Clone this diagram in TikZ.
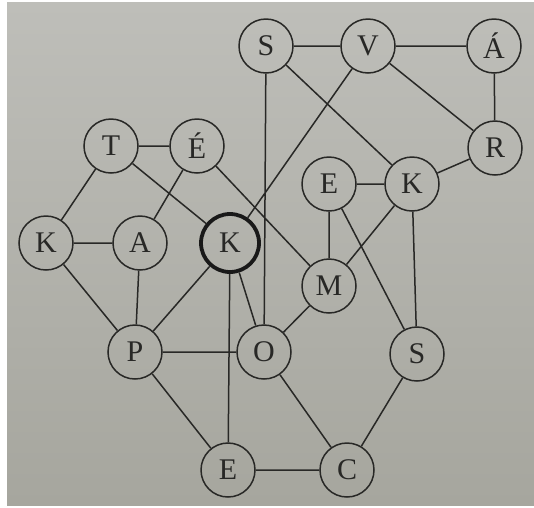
\documentclass[tikz,border=0pt]{standalone}
\usepackage{fontspec}
\setmainfont{Liberation Serif}
\definecolor{paperTop}{RGB}{190,190,185}
\definecolor{paperBot}{RGB}{166,166,158}
\definecolor{ink}{RGB}{40,40,38}
\begin{document}
\begin{tikzpicture}[x=1pt,y=-1pt,
  vtx/.style={circle,draw=ink,line width=1.5pt,minimum size=54pt,inner sep=0pt,
    font=\fontsize{30}{30}\selectfont,text=ink},
  hl/.style={line width=3.8pt,minimum size=58pt,draw=black!90},
  edge/.style={draw=ink,line width=1.5pt}]
\useasboundingbox (0,0) rectangle (534,507);
\fill[white] (0,0) rectangle (534,507);
\shade[top color=paperTop,bottom color=paperBot] (7,2) rectangle (534,505);
\node[vtx] (S1) at (266,46) {S};
\node[vtx] (V) at (368,46) {V};
\node[vtx] (AA) at (494,46) {Á};
\node[vtx] (R) at (495,148) {R};
\node[vtx] (T) at (111,146) {T};
\node[vtx] (EE) at (197,146) {É};
\node[vtx] (E1) at (329,184) {E};
\node[vtx] (K2) at (412,184) {K};
\node[vtx] (K1) at (46,243) {K};
\node[vtx] (A) at (140,243) {A};
\node[vtx,hl] (K0) at (230,243) {K};
\node[vtx] (M) at (329,286) {M};
\node[vtx] (P) at (135,352) {P};
\node[vtx] (O) at (264,352) {O};
\node[vtx] (S2) at (417,354) {S};
\node[vtx] (E2) at (228,470) {E};
\node[vtx] (C) at (347,470) {C};
\path[edge]
  (S1) -- (V) (V) -- (AA) (AA) -- (R) (V) -- (R)
  (S1) -- (K2) (S1) -- (O) (V) -- (K0) (R) -- (K2)
  (T) -- (EE) (T) -- (K1) (T) -- (K0) (EE) -- (A) (EE) -- (M)
  (K1) -- (A) (K1) -- (P) (A) -- (P)
  (K0) -- (P) (K0) -- (O) (K0) -- (E2)
  (E1) -- (K2) (E1) -- (M) (E1) -- (S2) (K2) -- (M) (K2) -- (S2)
  (M) -- (O) (P) -- (O) (P) -- (E2) (O) -- (C) (S2) -- (C) (E2) -- (C);
\end{tikzpicture}
\end{document}
